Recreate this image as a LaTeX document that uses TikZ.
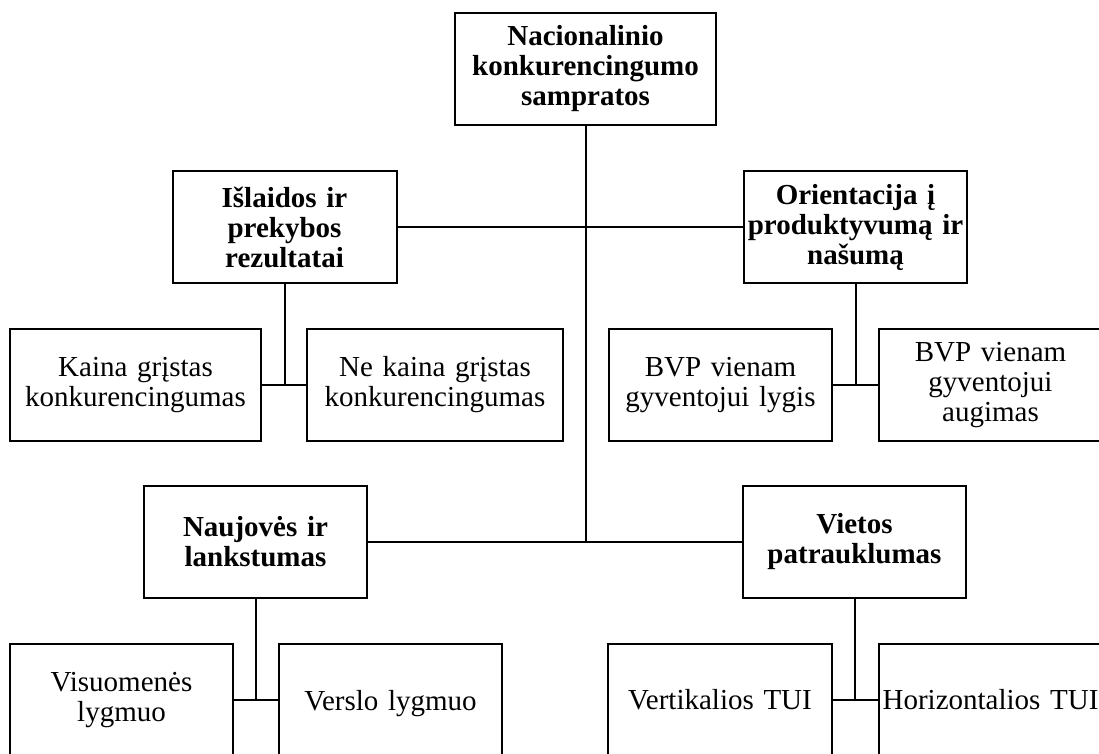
\documentclass[tikz,border=0pt]{standalone}
\usepackage{fontspec}
\setmainfont{Liberation Serif}
\begin{document}
\begin{tikzpicture}[x=1pt, y=-1pt, line cap=round,
	box/.style={draw, line width=2pt, inner sep=0pt, minimum height=112pt, align=center, text width=#1, font=\fontsize{29}{30}\selectfont},
	box/.default=223pt,
	headbox/.style={box=#1, font=\fontsize{29}{30}\selectfont\bfseries},
	headbox/.default=223pt,
	link/.style={line width=2pt}]
	\def \W{1099}
	\def \H{754}
	\useasboundingbox (0,0) rectangle (\W,\H);
	\clip (0,0) rectangle (\W,\H);
	\node[headbox=261pt] (samprata) at (585.5,69) {Nacionalinio\\konkurencingumo\\sampratos};
	\node[headbox=224pt] (islaidos) at (284.5,227) {Išlaidos ir\\prekybos\\rezultatai};
	\node[headbox] (orientacija) at (855.5,227) {Orientacija į\\produktyvumą ir\\našumą};
	\node[box=251pt] (kaina) at (135.5,385) {Kaina grįstas\\konkurencingumas};
	\node[box=256pt] (nekaina) at (435,385) {Ne kaina grįstas\\konkurencingumas};
	\node[box] (bvplygis) at (720.5,385) {BVP vienam\\gyventojui lygis};
	\node[box] (bvpaugimas) at (990.5,385) {BVP vienam\\gyventojui\\augimas};
	\node[headbox] (naujoves) at (255.5,542) {Naujovės ir\\lankstumas};
	\node[headbox] (vietos) at (854.5,542) {Vietos\\patrauklumas};
	\node[box] (visuomenes) at (121.5,700) {Visuomenės\\lygmuo};
	\node[box, text depth=0pt] (verslo) at (390.5,700) {Verslo lygmuo};
	\node[box=224pt] (vertikalios) at (720,700) {Vertikalios TUI};
	\node[box] (horizontalios) at (990.5,700) {Horizontalios TUI};
	\draw[link] (samprata) -- (samprata |- naujoves.east);
	\draw[link] (islaidos) -- (orientacija);
	\draw[link] (naujoves) -- (vietos);
	\draw[link] (islaidos) -- (islaidos |- kaina.east) (kaina) -- (nekaina);
	\draw[link] (orientacija) -- (orientacija |- bvplygis.east) (bvplygis) -- (bvpaugimas);
	\draw[link] (naujoves) -- (naujoves |- visuomenes.east) (visuomenes) -- (verslo);
	\draw[link] (vietos) -- (vietos |- vertikalios.east) (vertikalios) -- (horizontalios);
\end{tikzpicture}
\end{document}
